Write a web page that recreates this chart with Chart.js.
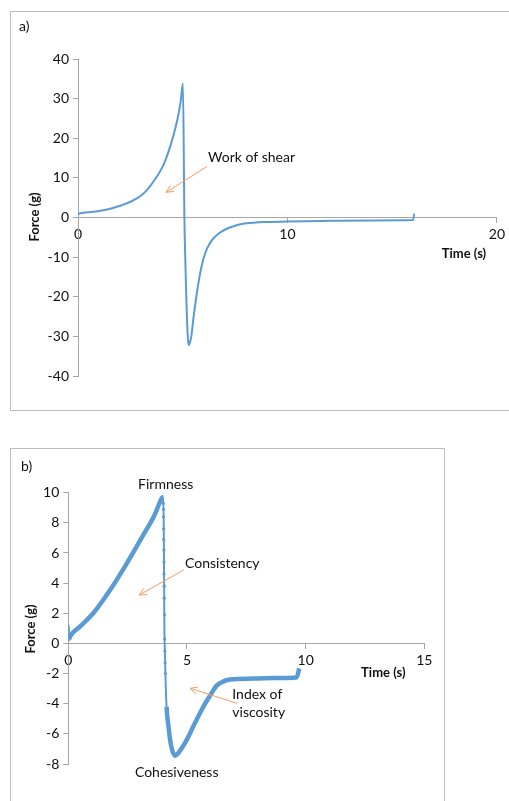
<!DOCTYPE html>
<html>
<head>
<meta charset="utf-8">
<script src="https://cdn.jsdelivr.net/npm/chart.js@4.4.1/dist/chart.umd.min.js"></script>
<style>
    body { margin: 0; background: #fff; width: 509px; height: 801px; overflow: hidden; position: relative; font-family: Lato, sans-serif; }
    .box { position: absolute; border: 1.5px solid #bdbdbd; box-sizing: border-box; }
    #boxA { left: 10px; top: 11px; width: 520px; height: 400px; }
    #boxB { left: 10px; top: 448px; width: 435px; height: 380px; }
    canvas { position: absolute; left: 0; }
    #chartA { top: 0; }
    #chartB { top: 430px; }
</style>
</head>
<body>
<div class="box" id="boxA"></div>
<div class="box" id="boxB"></div>
<canvas id="chartA" width="509" height="430"></canvas>
<canvas id="chartB" width="509" height="371"></canvas>
<script>
// Panel a) - work of shear
const timeA = [0, 0.05, 0.65, 1.44, 2.08, 2.56, 3.03, 3.35, 3.67, 3.98, 4.2, 4.46, 4.65, 4.78, 4.9, 5.01,
    5.08, 5.12, 5.17, 5.24, 5.29, 5.33, 5.41, 5.52, 5.65, 5.8, 5.97, 6.15, 6.37, 6.7, 7.08, 7.5, 7.87,
    8.4, 8.98, 10, 12, 14, 16, 16.05];
const forceA = [0.7, 1.0, 1.4, 2.1, 3.1, 4.1, 5.6, 7.3, 9.6, 12.2, 14.8, 18.9, 22.6, 25.6, 29.2, 33.8,
    0, -10, -20, -30, -32.2, -31.8, -30, -25, -20, -15, -10.8, -8, -5.9, -4.1, -2.9, -2.1, -1.6,
    -1.3, -1.15, -1.0, -0.85, -0.75, -0.65, 1.0];
const xTicksA = [0, 10, 20];
const yTicksA = [-40, -30, -20, -10, 0, 10, 20, 30, 40];

// Panel b) - firmness / cohesiveness
const timeB = [0, 0.02, 0.04, 0.07, 0.5, 1.05, 1.76, 2.46, 3.16, 3.6, 3.94, 4.0,
    4.02, 4.03, 4.04, 4.05, 4.06, 4.08, 4.1, 4.14, 4.22, 4.29, 4.38, 4.5, 4.62, 4.8, 4.99,
    5.3, 5.69, 6.0, 6.25, 6.5, 6.81, 7.8, 8.7, 9.62, 9.73];
const forceB = [0.2, 1.2, 0.3, 0.44, 1.13, 2.0, 3.54, 5.3, 7.2, 8.4, 9.63, 9.73,
    8.0, 5.8, 3.4, 0.8, 0, -1.2, -2.5, -4.2, -5.5, -6.4, -7.1, -7.45, -7.3, -6.9, -6.4,
    -5.4, -4.2, -3.4, -2.8, -2.55, -2.4, -2.33, -2.3, -2.26, -1.66];
// scattered samples along the fast drop
const dropTimeB = [4.0, 4.01, 4.01, 4.02, 4.02, 4.03, 4.03, 4.03, 4.04, 4.04, 4.05, 4.06, 4.07, 4.08, 4.09];
const dropForceB = [9.3, 8.9, 8.4, 7.6, 6.9, 6.2, 5.4, 4.6, 3.8, 3.0, 1.9, 0.3, -0.5, -1.3, -2.0];
const xTicksB = [0, 5, 10, 15];
const yTicksB = [-8, -6, -4, -2, 0, 2, 4, 6, 8, 10];

const lineBlue = '#5b9bd5';
const axisGrey = '#a6a6a6';
const arrowOrange = '#f79a5e';
const textColor = '#111';

function toPoints(xs, ys) {
    return xs.map((x, i) => ({ x: x, y: ys[i] }));
}

function axisOptions(ticks, min, max, extra) {
    return Object.assign({
        type: 'linear',
        min: min,
        max: max,
        afterBuildTicks: (scale) => { scale.ticks = ticks.map(v => ({ value: v })); },
        grid: { drawOnChartArea: false, drawTicks: true, tickLength: 5, color: axisGrey },
        border: { display: true, color: axisGrey, width: 1 },
        ticks: { color: textColor, font: { family: 'Lato', size: 14 }, padding: 4, maxRotation: 0, autoSkip: false }
    }, extra);
}

// Draws free text and arrows; coordinates are canvas pixels
function annotationPlugin(items) {
    return {
        id: 'notes',
        afterDraw(chart) {
            const c = chart.ctx;
            c.save();
            items.forEach(it => {
                if (it.arrow) {
                    const [x1, y1, x2, y2] = it.arrow;
                    const a = Math.atan2(y2 - y1, x2 - x1);
                    c.strokeStyle = arrowOrange;
                    c.lineWidth = 1;
                    c.beginPath();
                    c.moveTo(x1, y1);
                    c.lineTo(x2, y2);
                    c.moveTo(x2 - 8 * Math.cos(a - 0.45), y2 - 8 * Math.sin(a - 0.45));
                    c.lineTo(x2, y2);
                    c.lineTo(x2 - 8 * Math.cos(a + 0.45), y2 - 8 * Math.sin(a + 0.45));
                    c.stroke();
                    return;
                }
                c.fillStyle = textColor;
                c.font = (it.bold ? 'bold ' : '') + (it.size || 14) + 'px Lato';
                c.textAlign = it.align || 'left';
                c.textBaseline = 'middle';
                if (it.rotate) {
                    c.save();
                    c.translate(it.x, it.y);
                    c.rotate(-Math.PI / 2);
                    c.fillText(it.text, 0, 0);
                    c.restore();
                } else {
                    c.fillText(it.text, it.x, it.y);
                }
            });
            c.restore();
        }
    };
}

// Chart a)
new Chart(document.getElementById('chartA'), {
    type: 'line',
    data: {
        datasets: [{
            data: toPoints(timeA, forceA),
            borderColor: lineBlue,
            borderWidth: 2,
            pointRadius: 0,
            cubicInterpolationMode: 'monotone'
        }]
    },
    options: {
        responsive: false,
        animation: false,
        layout: { padding: { left: 0, right: 11, top: 59, bottom: 54 } },
        plugins: { legend: { display: false }, tooltip: { enabled: false } },
        scales: {
            x: axisOptions(xTicksA, 0, 20, { position: { y: 0 } }),
            y: axisOptions(yTicksA, -40, 40, {
                position: 'left',
                afterFit: (scale) => { scale.width = 78; }
            })
        }
    },
    plugins: [annotationPlugin([
        { text: 'a)', x: 19, y: 26.5 },
        { text: 'Force (g)', x: 35, y: 217, rotate: true, bold: true, size: 13, align: 'center' },
        { text: 'Time (s)', x: 464, y: 254, bold: true, size: 13, align: 'center' },
        { text: 'Work of shear', x: 208, y: 157.5 },
        { arrow: [206.7, 166.7, 166, 192.3] }
    ])]
});

// Chart b)
new Chart(document.getElementById('chartB'), {
    type: 'line',
    data: {
        datasets: [{
            data: toPoints(timeB, forceB),
            borderColor: lineBlue,
            borderWidth: 4.5,
            pointRadius: 0,
            cubicInterpolationMode: 'monotone',
            segment: {
                borderWidth: (ctx) => (Math.abs(ctx.p1.x - ctx.p0.x) < 1.5 && Math.abs(ctx.p1.y - ctx.p0.y) > 12) ? 2 : 4.5
            }
        }, {
            data: toPoints(dropTimeB, dropForceB),
            showLine: false,
            pointRadius: 1.6,
            pointBorderWidth: 0,
            pointBackgroundColor: lineBlue
        }]
    },
    options: {
        responsive: false,
        animation: false,
        layout: { padding: { left: 0, right: 84.7, top: 62.7, bottom: 37 } },
        plugins: { legend: { display: false }, tooltip: { enabled: false } },
        scales: {
            x: axisOptions(xTicksB, 0, 15, { position: { y: 0 } }),
            y: axisOptions(yTicksB, -8, 10, {
                position: 'left',
                afterFit: (scale) => { scale.width = 68.3; }
            })
        }
    },
    plugins: [annotationPlugin([
        { text: 'b)', x: 21, y: 36 },
        { text: 'Force (g)', x: 31.3, y: 199, rotate: true, bold: true, size: 13, align: 'center' },
        { text: 'Time (s)', x: 383.3, y: 243.3, bold: true, size: 13, align: 'center' },
        { text: 'Firmness', x: 165.7, y: 54.3, align: 'center' },
        { text: 'Consistency', x: 185, y: 133.7 },
        { arrow: [183.7, 140, 139.3, 165] },
        { text: 'Index of', x: 232.3, y: 264.3 },
        { text: 'viscosity', x: 232.3, y: 282.3 },
        { arrow: [237.3, 273.3, 190, 258.3] },
        { text: 'Cohesiveness', x: 176.7, y: 342.3, align: 'center' }
    ])]
});
</script>
</body>
</html>
